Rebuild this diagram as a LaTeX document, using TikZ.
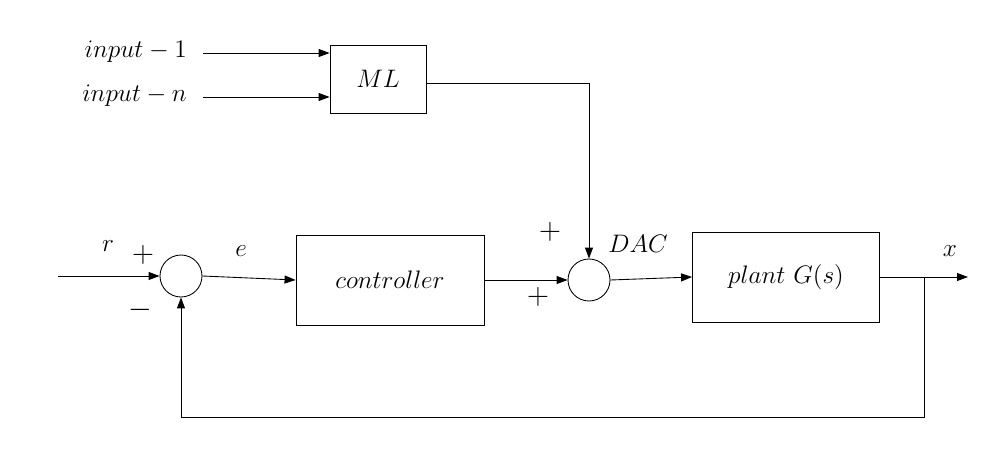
\documentclass[tikz,border=0pt]{standalone}
\usetikzlibrary{arrows.meta}

\tikzset{
    blk/.style={draw, minimum width=#1, inner sep=0pt},
    sumnode/.style={draw, circle, minimum size=0.84cm, inner sep=0pt},
    sig/.style={-{Triangle[length=2.2mm,width=1.6mm]}},
    lbl/.style={font=\fontsize{14}{17}\selectfont},
    sgn/.style={font=\fontsize{17}{20}\selectfont}
}

\begin{document}
\begin{tikzpicture}[x=0.02cm, y=-0.02cm, line width=0.5pt]
\useasboundingbox (0,0) rectangle (998,473);

% Blocks
\node[blk=1.92cm, minimum height=1.36cm, lbl] (ML) at (378,79){$ML$};
\node[blk=3.76cm, minimum height=1.8cm, lbl] (CTRL) at (390,280){$controller$};
\node[blk=3.74cm, minimum height=1.8cm, lbl] (PLANT) at (786,277){$plant\ G(s)$};
\node[sumnode] (SUM1) at (181,276){};
\node[sumnode] (SUM2) at (589,280){};

% ML inputs
\node[lbl, anchor=east] (IN1) at (193,52){$input - 1$};
\node[lbl, anchor=east] (INN) at (193,96){$input - n$};
\draw[sig] (IN1.east) ++(10,1) -- (ML.west |- 0,53);
\draw[sig] (INN.east) ++(10,1) -- (ML.west |- 0,97);
\draw[sig] (ML.east |- 0,83) -| (SUM2.north);

% Forward path
\coordinate (R) at (58,276);
\draw[sig] (R) -- (SUM1.west);
\draw[sig] (SUM1.east) -- (CTRL.west);
\draw[sig] (CTRL.east) -- (SUM2.west);
\draw[sig] (SUM2.east) -- (PLANT.west);
\coordinate (X) at (968,277);
\draw[sig] (PLANT.east) -- (X);

% Feedback
\coordinate (FB) at (924,277);
\draw[sig] (FB) -- (924,417) -| (SUM1.south);

% Labels
\node[lbl] at (108,246){$r$};
\node[sgn] at (143,255){$+$};
\node[sgn] at (140,310){$-$};
\node[lbl] at (241,251){$e$};
\node[sgn] at (550,232){$+$};
\node[sgn] at (538,297){$+$};
\node[lbl] at (638,244){$DAC$};
\node[lbl] at (950,251){$x$};
\end{tikzpicture}
\end{document}
